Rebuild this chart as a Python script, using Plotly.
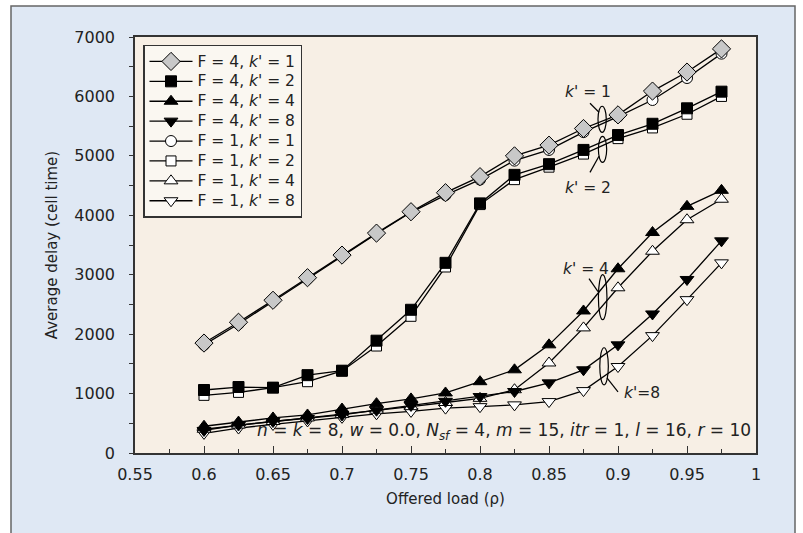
import plotly.graph_objects as go

load = [0.6, 0.625, 0.65, 0.675, 0.7, 0.725, 0.75, 0.775, 0.8, 0.825, 0.85, 0.875, 0.9, 0.925, 0.95, 0.975]

f4_k1 = [1850, 2200, 2570, 2950, 3330, 3700, 4060, 4380, 4650, 5000, 5180, 5460, 5690, 6090, 6410, 6800]
f4_k2 = [1060, 1110, 1100, 1310, 1385, 1890, 2410, 3200, 4200, 4680, 4860, 5100, 5350, 5540, 5800, 6080]
f4_k4 = [450, 520, 590, 640, 740, 830, 910, 1010, 1200, 1400, 1820, 2390, 3100, 3710, 4150, 4420]
f4_k8 = [380, 470, 530, 580, 640, 720, 800, 870, 950, 1035, 1180, 1400, 1820, 2340, 2920, 3570]
f1_k1 = [1820, 2170, 2550, 2930, 3310, 3690, 4050, 4340, 4600, 4920, 5100, 5400, 5660, 5940, 6310, 6720]
f1_k2 = [970, 1020, 1100, 1200, 1380, 1800, 2300, 3130, 4180, 4600, 4810, 5030, 5290, 5470, 5700, 6000]
f1_k4 = [400, 470, 530, 590, 650, 720, 780, 850, 920, 1065, 1515, 2105, 2780, 3395, 3925, 4270]
f1_k8 = [330, 420, 480, 540, 600, 660, 700, 755, 780, 810, 865, 1050, 1455, 1975, 2580, 3200]

LEG = "<span style='font-size:15.5px'>%s</span>"
series = [
    ("F = 1, <i>k</i>' = 8", f1_k8, "triangle-down", "white", 12, 8),
    ("F = 1, <i>k</i>' = 4", f1_k4, "triangle-up", "white", 12, 7),
    ("F = 1, <i>k</i>' = 2", f1_k2, "square", "white", 10, 6),
    ("F = 1, <i>k</i>' = 1", f1_k1, "circle", "white", 11, 5),
    ("F = 4, <i>k</i>' = 8", f4_k8, "triangle-down", "black", 12, 4),
    ("F = 4, <i>k</i>' = 4", f4_k4, "triangle-up", "black", 12, 3),
    ("F = 4, <i>k</i>' = 2", f4_k2, "square", "black", 11, 2),
    ("F = 4, <i>k</i>' = 1", f4_k1, "diamond", "#c8c8c8", 14, 1),
]

# annotation helpers: (label, label_x, label_y, ellipse x0,x1,y0,y1, leader x0,y0,x1,y1)
groups = [
    ("<i>k</i>' = 1", 0.8783, 6071, 0.8855, 0.8915, 5396, 5835, 0.8797, 5885, 0.8862, 5734),
    ("<i>k</i>' = 2", 0.8785, 4452, 0.8858, 0.8918, 4890, 5329, 0.8797, 4722, 0.8862, 4992),
    ("<i>k</i>' = 4", 0.8765, 3103, 0.8858, 0.8920, 2243, 3002, 0.8790, 2934, 0.8855, 2715),
    ("<i>k</i>'=8", 0.9174, 1012, 0.8868, 0.8930, 1147, 1771, 0.9000, 1029, 0.8920, 1265),
]
param_text = ("<i>n</i> = <i>k</i> = 8, <i>w</i> = 0.0, <i>N<sub>sf</sub></i> = 4, "
              "<i>m</i> = 15, <i>itr</i> = 1, <i>l</i> = 16, <i>r</i> = 10")

fig = go.Figure()
for name, vals, sym, fill, size, rank in series:
    fig.add_trace(go.Scatter(
        x=load, y=vals, name=LEG % name, mode="lines+markers",
        line=dict(color="black", width=1.3),
        marker=dict(symbol=sym, color=fill, size=size, line=dict(color="black", width=1)),
        legendrank=rank,
    ))

FONT = "DejaVu Sans"
TXT = "#222222"
shapes = [
    # outer frame
    dict(type="rect", xref="paper", yref="paper", x0=(11 - 135) / 621, x1=(795 - 135) / 621,
         y0=-0.3, y1=(453 - 6) / 416, fillcolor="#dfe8f4", line=dict(color="#666666", width=1.5),
         layer="below"),
    dict(type="rect", xref="paper", yref="paper", x0=0, x1=1, y0=0, y1=1,
         fillcolor="#f7efe5", line=dict(width=0), layer="below"),
]
annotations = []
for lab, lx, ly, ex0, ex1, ey0, ey1, lx0, ly0, lx1, ly1 in groups:
    shapes.append(dict(type="circle", xref="x", yref="y", x0=ex0, x1=ex1, y0=ey0, y1=ey1,
                       line=dict(color="black", width=1.2)))
    shapes.append(dict(type="line", xref="x", yref="y", x0=lx0, y0=ly0, x1=lx1, y1=ly1,
                       line=dict(color="black", width=1.2)))
    annotations.append(dict(x=lx, y=ly, xref="x", yref="y", text=lab, showarrow=False,
                            font=dict(family=FONT, size=15.5, color=TXT)))
annotations.append(dict(x=0.995, xref="paper", y=354, yref="y", text=param_text, showarrow=False,
                        xanchor="right", yanchor="middle", font=dict(family=FONT, size=17, color=TXT)))

fig.update_layout(
    width=803, height=533,
    margin=dict(l=135, r=47, t=37, b=80),
    paper_bgcolor="white",
    plot_bgcolor="rgba(0,0,0,0)",
    font=dict(family=FONT, size=16, color=TXT),
    showlegend=True,
    legend=dict(x=0.0129, y=0.9808, xanchor="left", yanchor="top",
                bgcolor="#faf7f1", bordercolor="#333333", borderwidth=1.5,
                font=dict(family=FONT, size=13, color=TXT), tracegroupgap=0,
                itemwidth=43),
    shapes=shapes,
    annotations=annotations,
)
fig.update_xaxes(range=[0.55, 1.0], dtick=0.05, showgrid=False, zeroline=False,
                 showline=True, linecolor="#333333", linewidth=1.5, mirror=True,
                 ticks="inside", ticklen=7, tickcolor="#333333",
                 minor=dict(dtick=0.025, ticks="inside", ticklen=4, tickcolor="#333333"),
                 ticklabelstandoff=6,
                 title=dict(text="Offered load (ρ)", font=dict(family=FONT, size=15), standoff=11),
                 tickfont=dict(family=FONT, size=16))
fig.update_yaxes(range=[0, 7000], dtick=1000, showgrid=False, zeroline=False,
                 showline=True, linecolor="#333333", linewidth=1.5, mirror=True,
                 ticks="outside", ticklen=4, tickcolor="#333333",
                 minor=dict(dtick=500, ticks="outside", ticklen=4, tickcolor="#333333"),
                 ticklabelstandoff=11,
                 title=dict(text="Average delay (cell time)", font=dict(family=FONT, size=15), standoff=13),
                 tickfont=dict(family=FONT, size=16))

fig.write_html("out.html", config={"displayModeBar": False},
               post_script="document.body.style.margin='0';")
